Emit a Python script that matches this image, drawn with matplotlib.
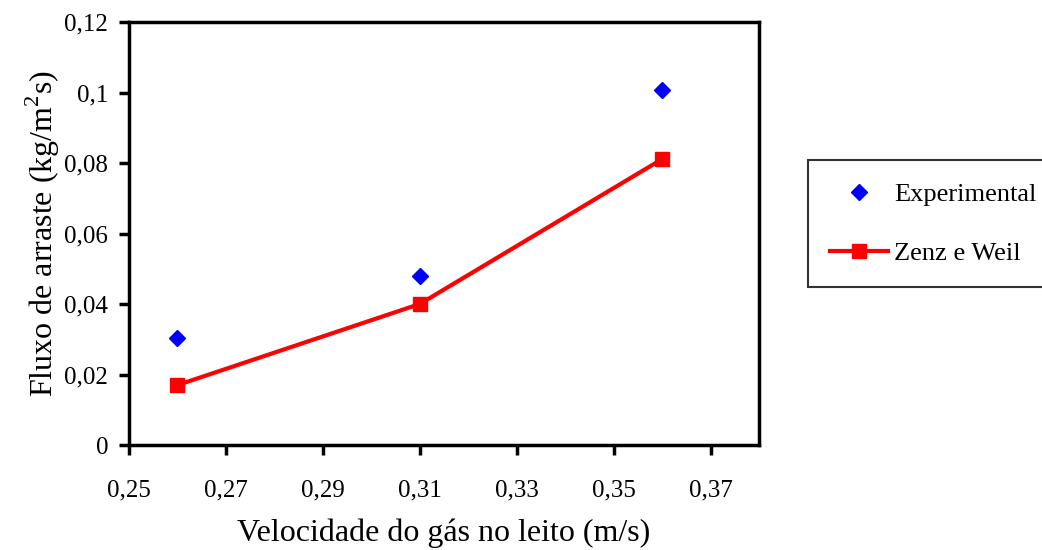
import matplotlib.pyplot as plt
from matplotlib.ticker import FuncFormatter

plt.rcParams['font.family'] = ['Liberation Serif', 'DejaVu Serif']
plt.rcParams['mathtext.fontset'] = 'custom'
plt.rcParams['mathtext.rm'] = 'Liberation Serif'

# data
velocidade = [0.26, 0.31, 0.36]
experimental = [0.0304, 0.0479, 0.1007]
zenz_weil = [0.0170, 0.0400, 0.0811]

xticks = [0.25, 0.27, 0.29, 0.31, 0.33, 0.35, 0.37]
yticks = [0, 0.02, 0.04, 0.06, 0.08, 0.1, 0.12]

fig = plt.figure(figsize=(10.42, 5.5), dpi=100)
ax = fig.add_axes([0.1238, 0.1909, 0.6046, 0.7691])

ax.plot(velocidade, experimental, 'D', color='#0000ff', markersize=8, label='Experimental', zorder=3)
ax.plot(velocidade, zenz_weil, '-s', color='#ff0000', lw=3, markersize=10, label='Zenz e Weil')

ax.set_xlim(0.25, 0.38)
ax.set_ylim(0, 0.12)
ax.set_xticks(xticks)
ax.set_yticks(yticks)

fmt = FuncFormatter(lambda v, p: ('%g' % round(v, 4)).replace('.', ','))
ax.xaxis.set_major_formatter(fmt)
ax.yaxis.set_major_formatter(fmt)

for s in ax.spines.values():
    s.set_linewidth(2.5)
ax.tick_params(direction='out', length=7, width=2.5, labelsize=18)
ax.tick_params(axis='x', pad=18)
ax.tick_params(axis='y', pad=8)

ax.set_xlabel('Velocidade do gás no leito (m/s)', fontsize=23, labelpad=12)
ax.set_ylabel('Fluxo de arraste (kg/m$^2$s)', fontsize=23, labelpad=2)

leg = ax.legend(loc='upper left', bbox_to_anchor=(0.7754, 0.7091), bbox_transform=fig.transFigure,
                borderaxespad=0, fontsize=19, frameon=True, fancybox=False, edgecolor='black',
                borderpad=0.85, labelspacing=1.35, handlelength=2.2, handletextpad=0.2)
leg.get_frame().set_linewidth(1.5)

fig.savefig('out.png', dpi=100)
